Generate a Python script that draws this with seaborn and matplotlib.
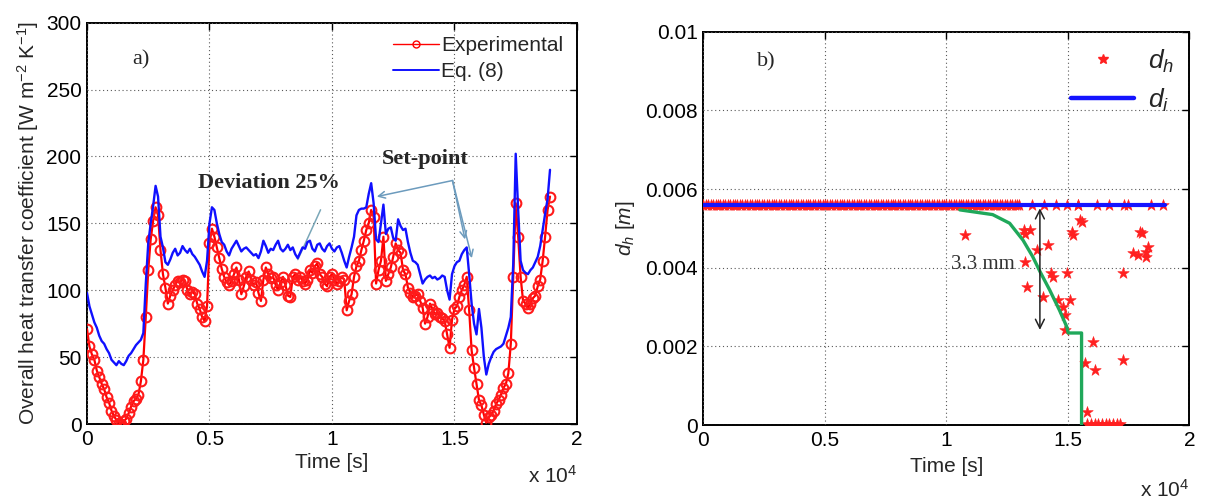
import numpy as np
import pandas as pd
import matplotlib
matplotlib.use("Agg")
import matplotlib.pyplot as plt
from matplotlib.lines import Line2D
import seaborn as sns

# ---------------------------------------------------------------- data
SAMPLE_STEP = 100  # logging interval [s]

# Overall heat transfer coefficient [W m-2 K-1], one value per logged sample
eq8_u = [
    98, 88, 82, 76, 72, 66, 62, 60, 56, 53,
    48, 46, 44, 47, 45, 44, 47, 51, 53, 56,
    59, 61, 63, 68, 105, 135, 150, 163, 178, 170,
    140, 132, 121, 119, 123, 128, 131, 126, 128, 133,
    130, 128, 131, 127, 125, 122, 119, 114, 110, 122,
    150, 162, 160, 150, 142, 136, 134, 129, 126, 131,
    134, 137, 133, 129, 131, 132, 130, 128, 126, 127,
    124, 129, 137, 133, 128, 131, 130, 134, 137, 131,
    129, 131, 134, 130, 132, 127, 124, 128, 132, 131,
    136, 137, 131, 129, 134, 135, 131, 129, 133, 135,
    131, 129, 132, 133, 128, 122, 117, 125, 132, 140,
    156, 160, 161, 161, 162, 172, 180, 165, 138, 136,
    150, 164, 142, 146, 147, 139, 137, 153, 148, 145,
    146, 136, 128, 122, 121, 119, 112, 105, 108, 110,
    111, 109, 110, 108, 109, 111, 110, 100, 93, 112,
    118, 121, 122, 127, 130, 132, 112, 90, 75, 67,
    86, 72, 50, 37, 45, 50, 54, 56, 57, 58,
    60, 66, 72, 80, 120, 202, 160, 122, 115, 113,
    112, 115, 117, 121, 125, 133, 145, 157, 168, 190,
]
exp_u = [
    71, 58, 52, 48, 40, 35, 30, 26, 20, 16,
    10, 6, 3, 1, 0, 2, 4, 8, 13, 17,
    19, 22, 32, 48, 80, 115, 138, 152, 162, 156,
    130, 112, 102, 90, 96, 100, 104, 107, 106, 108,
    107, 100, 97, 99, 97, 90, 86, 80, 77, 88,
    135, 146, 140, 132, 124, 116, 110, 106, 104, 107,
    112, 117, 108, 97, 103, 110, 114, 108, 104, 106,
    98, 92, 108, 117, 112, 109, 110, 104, 100, 106,
    110, 104, 96, 95, 110, 112, 108, 110, 107, 105,
    108, 115, 113, 118, 120, 112, 110, 105, 103, 110,
    112, 108, 105, 107, 110, 108, 85, 92, 97, 110,
    118, 122, 130, 137, 145, 150, 160, 155, 105, 115,
    122, 140, 107, 112, 117, 125, 135, 130, 128, 115,
    112, 102, 98, 95, 96, 97, 92, 87, 75, 80,
    90, 86, 82, 83, 80, 79, 77, 67, 57, 78,
    86, 88, 95, 100, 104, 110, 85, 55, 42, 30,
    18, 14, 7, 1, 5, 7, 10, 15, 18, 22,
    27, 30, 38, 60, 110, 165, 140, 110, 92, 90,
    87, 90, 94, 96, 103, 108, 122, 140, 160, 170,
]

# Hydraulic diameter [m]
di_value = 0.0056          # initial (clean) diameter
di_end_time = 19000
dh_steady_end = 13000      # d_h stays at the clean value until here
dh_late_time = [
    10750, 13200, 13230, 13430, 13710, 14190, 13230, 14320, 14390, 13300,
    13980, 14600, 15080, 14870, 14800, 14870, 15150, 15220, 15500, 15560,
    15420, 16200, 17480, 17960, 18030, 17680, 17890, 18230, 18230, 18300,
    17270, 14980, 16040, 17270, 16110, 15700, 15770,
    15800, 15950, 16100, 16250, 16400, 16550, 16700, 16850, 17000, 17150,
    13500, 14000, 14500, 14950, 15400, 16700, 17300, 18400, 18900,
]
dh_late_value = [
    0.00482, 0.00496, 0.00485, 0.00496, 0.00445, 0.00458, 0.00415, 0.00386, 0.00377, 0.00352,
    0.00326, 0.00318, 0.00318, 0.00280, 0.00301, 0.00242, 0.00491, 0.00483, 0.00521, 0.00517,
    0.00559, 0.00560, 0.00560, 0.00491, 0.00487, 0.00437, 0.00432, 0.00428, 0.00440, 0.00453,
    0.00386, 0.00387, 0.00212, 0.00165, 0.00140, 0.00157, 0.00034,
    0.00003, 0.00003, 0.00003, 0.00003, 0.00003, 0.00003, 0.00003, 0.00003, 0.00003, 0.00003,
    0.00560, 0.00560, 0.00560, 0.00560, 0.00560, 0.00560, 0.00560, 0.00560, 0.00560,
]
# smoothed fouling trend
trend_time = [10550, 11900, 12600, 13150, 13550, 13850, 14250, 14650, 14950, 15010, 15560, 15560]
trend_value = [0.00547, 0.00535, 0.00513, 0.00470, 0.00428, 0.00390, 0.00343, 0.00292,
               0.00250, 0.00234, 0.00234, 0.0]

x_ticks = [0, 5000, 10000, 15000, 20000]
x_tick_labels = ["0", "0.5", "1", "1.5", "2"]
ya_ticks = [0, 50, 100, 150, 200, 250, 300]
yb_ticks = [0, 0.002, 0.004, 0.006, 0.008, 0.01]
yb_tick_labels = ["0", "0.002", "0.004", "0.006", "0.008", "0.01"]

# ---------------------------------------------------------------- style
sns.set_theme(style="white")
plt.rcParams["font.family"] = ["Liberation Sans", "DejaVu Sans"]
plt.rcParams["mathtext.fontset"] = "custom"
plt.rcParams["mathtext.it"] = "Liberation Sans:italic"
plt.rcParams["mathtext.rm"] = "Liberation Sans"
SERIF = ["Liberation Serif", "DejaVu Serif"]
FS = 15

fig = plt.figure(figsize=(12.05, 5.03), dpi=100)
ax_a = fig.add_axes([0.0722, 0.157, 0.4066, 0.798])
ax_b = fig.add_axes([0.5838, 0.155, 0.4033, 0.782])


def matlab_axes(ax):
    for s in ax.spines.values():
        s.set_visible(True)
        s.set_color("black")
        s.set_linewidth(1.4)
    ax.tick_params(direction="in", top=True, right=True, length=5, width=1,
                   labelsize=FS, colors="black", pad=4)
    ax.grid(True, color="0.35", linestyle=(0, (1, 2.5)), linewidth=0.8)
    ax.set_axisbelow(False)


# ---------------------------------------------------------------- panel a
df_a = pd.DataFrame({
    "t": np.arange(len(exp_u)) * SAMPLE_STEP,
    "exp": exp_u,
    "eq8": eq8_u,
})
sns.lineplot(data=df_a, x="t", y="exp", ax=ax_a, color="#ff0000", lw=1.6,
             marker="o", markersize=7, markerfacecolor="none",
             markeredgecolor="#ff1a1a", markeredgewidth=1.5,
             sort=False, estimator=None, label="Experimental", zorder=3)
sns.lineplot(data=df_a, x="t", y="eq8", ax=ax_a, color="#1010ff", lw=1.7,
             sort=False, estimator=None, label="Eq. (8)", zorder=4)

matlab_axes(ax_a)
ax_a.set_xlim(0, 20000)
ax_a.set_ylim(0, 300)
ax_a.set_xticks(x_ticks)
ax_a.set_xticklabels(x_tick_labels)
ax_a.set_yticks(ya_ticks)
ax_a.set_xlabel("Time [s]", fontsize=FS, labelpad=3)
ax_a.set_ylabel("Overall heat transfer coefficient [W m$^{-2}$ K$^{-1}$]",
                fontsize=FS, labelpad=4)
ax_a.text(1.0, -0.13, r"x 10$^{4}$", transform=ax_a.transAxes, ha="right",
          va="center", fontsize=FS)

h_exp = Line2D([], [], color="#ff0000", lw=1.0, marker="o", markersize=5,
               markerfacecolor="none", markeredgecolor="#ff0000")
h_eq8 = Line2D([], [], color="#1010ff", lw=1.4)
ax_a.legend([h_exp, h_eq8], ["Experimental", "Eq. (8)"], frameon=False,
            loc="upper right", bbox_to_anchor=(1.0, 1.0), fontsize=FS,
            handlelength=2.2, handletextpad=0.1, labelspacing=0.35,
            borderaxespad=0.25, markerfirst=True)

ax_a.text(0.11, 0.908, "a)", transform=ax_a.transAxes, ha="center",
          va="center", fontsize=16, family=SERIF)
ax_a.text(0.372, 0.60, "Deviation 25%", transform=ax_a.transAxes,
          ha="center", va="center", fontsize=16, fontweight="bold", family=SERIF)
ax_a.text(0.69, 0.66, "Set-point", transform=ax_a.transAxes,
          ha="center", va="center", fontsize=16, fontweight="bold", family=SERIF)

ax_a.annotate("", xy=(8560, 121), xytext=(9580, 162),
              arrowprops=dict(arrowstyle="-", color="#7aa7b8", lw=1.1))
for end in [(11830, 170), (15430, 138), (15710, 124)]:
    ax_a.annotate("", xy=end, xytext=(14920, 182),
                  arrowprops=dict(arrowstyle="->", color="#6c9bbd", lw=1.1,
                                  mutation_scale=12, shrinkA=0, shrinkB=0))

# ---------------------------------------------------------------- panel b
steady_t = np.arange(0, dh_steady_end + 1, SAMPLE_STEP)
df_dh = pd.DataFrame({
    "t": np.concatenate([steady_t, dh_late_time]),
    "d": np.concatenate([np.full(len(steady_t), di_value), dh_late_value]),
})
df_di = pd.DataFrame({"t": [0, di_end_time], "d": [di_value, di_value]})
df_tr = pd.DataFrame({"t": trend_time, "d": trend_value})

sns.scatterplot(data=df_dh, x="t", y="d", ax=ax_b, marker="*", s=75,
                color="#ff2020", edgecolor="#ff2020", linewidth=0.4,
                label="$d_h$", zorder=3)
sns.lineplot(data=df_di, x="t", y="d", ax=ax_b, color="#1414ff", lw=3.0,
             sort=False, estimator=None, label="$d_i$", zorder=4)
sns.lineplot(data=df_tr, x="t", y="d", ax=ax_b, color="#1fa85a", lw=2.4,
             sort=False, estimator=None, zorder=5, legend=False)

matlab_axes(ax_b)
ax_b.set_xlim(0, 20000)
ax_b.set_ylim(0, 0.01)
ax_b.set_xticks(x_ticks)
ax_b.set_xticklabels(x_tick_labels)
ax_b.set_yticks(yb_ticks)
ax_b.set_yticklabels(yb_tick_labels)
ax_b.set_xlabel("Time [s]", fontsize=FS, labelpad=5)
ax_b.set_ylabel(r"$d_h\ [m]$", fontsize=FS, labelpad=6)
ax_b.text(1.0, -0.165, r"x 10$^{4}$", transform=ax_b.transAxes, ha="right",
          va="center", fontsize=FS)

h_dh = Line2D([], [], ls="none", marker="*", markersize=7, color="#ff2020")
h_di = Line2D([], [], color="#1414ff", lw=3.2)
ax_b.legend([h_dh, h_di], ["$d_h$", "$d_i$"], frameon=False,
            loc="upper right", bbox_to_anchor=(1.0, 1.0), fontsize=19,
            handlelength=2.4, handletextpad=0.5, labelspacing=0.45,
            borderaxespad=0.2)

ax_b.text(0.129, 0.924, "b)", transform=ax_b.transAxes, ha="center",
          va="center", fontsize=16, family=SERIF)
ax_b.text(11500, 0.00407, "3.3 mm", ha="center", va="center",
          fontsize=15, family=SERIF, color="#333333", zorder=6)
ax_b.annotate("", xy=(13845, 0.00242), xytext=(13845, 0.00551),
              arrowprops=dict(arrowstyle="<->", color="#222222", lw=1.1,
                              mutation_scale=16, shrinkA=0, shrinkB=0),
              zorder=6)

fig.savefig("out.png", dpi=100)
